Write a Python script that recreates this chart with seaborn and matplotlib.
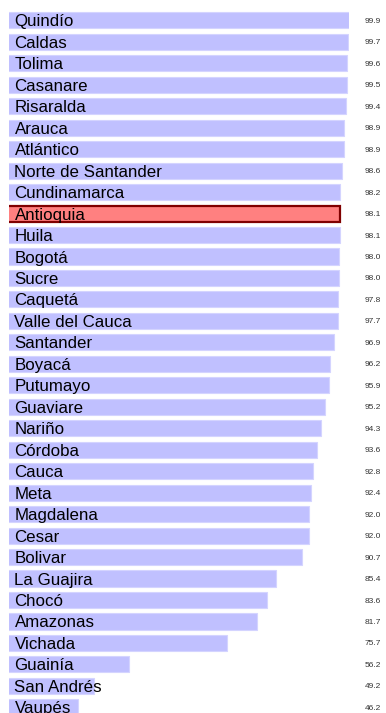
import matplotlib
matplotlib.use("Agg")
import matplotlib.pyplot as plt
import matplotlib.transforms as mtransforms
import seaborn as sns

departamentos = [
    "Quindío", "Caldas", "Tolima", "Casanare", "Risaralda", "Arauca",
    "Atlántico", "Norte de Santander", "Cundinamarca", "Antioquia", "Huila",
    "Bogotá", "Sucre", "Caquetá", "Valle del Cauca", "Santander", "Boyacá",
    "Putumayo", "Guaviare", "Nariño", "Córdoba", "Cauca", "Meta", "Magdalena",
    "Cesar", "Bolivar", "La Guajira", "Chocó", "Amazonas", "Vichada",
    "Guainía", "San Andrés", "Vaupés",
]
valores = [
    99.9, 99.7, 99.6, 99.5, 99.4, 98.9, 98.9, 98.6, 98.2, 98.1, 98.1,
    98.0, 98.0, 97.8, 97.7, 96.9, 96.2, 95.9, 95.2, 94.3, 93.6, 92.8,
    92.4, 92.0, 92.0, 90.7, 85.4, 83.6, 81.7, 75.7, 56.2, 49.2, 46.2,
]
destacado = "Antioquia"

sns.set_theme(style="white")
plt.rcParams["font.family"] = ["Liberation Sans", "DejaVu Sans"]

W, H = 386, 713
fig = plt.figure(figsize=(W / 100, H / 100), dpi=100)
ax_left, ax_right = 8.7, 349.3
ax_top, ax_bottom = 9.6, 718.1
ax = fig.add_axes([ax_left / W, (H - ax_bottom) / H,
                   (ax_right - ax_left) / W, (ax_bottom - ax_top) / H])

colores = {d: ("#ff8080" if d == destacado else "#c0c0ff") for d in departamentos}
sns.barplot(x=valores, y=departamentos, hue=departamentos, palette=colores,
            legend=False, orient="h", width=0.75, ax=ax,
            edgecolor="#d4d4ff", linewidth=0.8, saturation=1)

for patch, d in zip(ax.patches, departamentos):
    if d == destacado:
        patch.set_edgecolor("#800000")
        patch.set_linewidth(1.6)

ax.set_xlim(min(valores) * 0.7, 100)
ax.set_ylim(len(departamentos) - 0.5, -0.5)
ax.axis("off")

trans = mtransforms.blended_transform_factory(ax.transAxes, ax.transData)
x_name = (14.5 - ax_left) / (ax_right - ax_left)
x_val = (365.0 - ax_left) / (ax_right - ax_left)
for i, (d, v) in enumerate(zip(departamentos, valores)):
    ax.text(x_name, i, d, transform=trans, ha="left", va="center_baseline",
            fontsize=12.2, color="black", clip_on=False)
    ax.text(x_val, i, f"{v:.1f}", transform=trans, ha="left",
            va="center_baseline", fontsize=6, color="#333333", clip_on=False)

fig.savefig("out.png", dpi=100)
